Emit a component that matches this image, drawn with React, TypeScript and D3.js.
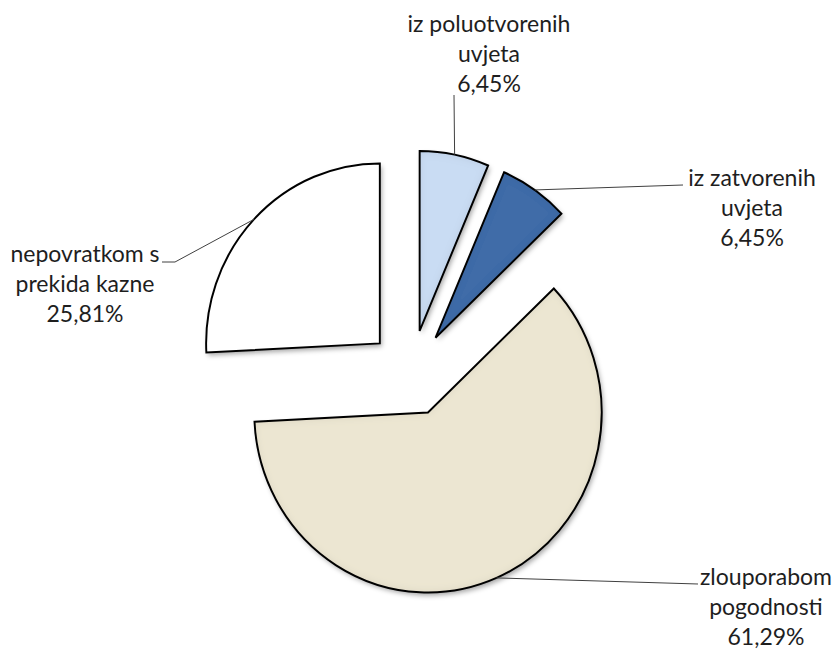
import React from "react";
import * as d3 from "d3";

const categories = ["iz poluotvorenih uvjeta", "iz zatvorenih uvjeta", "zlouporabom pogodnosti", "nepovratkom s prekida kazne"];
const values = [6.45, 6.45, 61.29, 25.81];
const labelLines = [
  ["iz poluotvorenih", "uvjeta", "6,45%"],
  ["iz zatvorenih", "uvjeta", "6,45%"],
  ["zlouporabom", "pogodnosti", "61,29%"],
  ["nepovratkom s", "prekida kazne", "25,81%"],
];
const colors = ["#c9dcf3", "#3f6ca8", "#ece6d2", "#ffffff"];

// layout (not data)
const W = 836, H = 650;
const CX = 411, CY = 373, R = 180, EXPLODE = 43;
const SX = 0.965; // slight horizontal squeeze of the pie (perspective)
// label anchor (text center x, first baseline y) and leader elbow points
const labelLayout = [
  { x: 489, y: 32, path: [[454, 95]] },
  { x: 752, y: 186, path: [[683, 185]] },
  { x: 766, y: 585, path: [[698, 584]] },
  { x: 85, y: 262, path: [[175, 262], [162, 262]] },
];
const lineHeight = 30;

export default function App() {
  const pie = d3.pie<number>().sort(null).value((d) => d).startAngle(0).endAngle(2 * Math.PI);
  const arcs = pie(values);
  const arc = d3.arc<d3.PieArcDatum<number>>().innerRadius(0).outerRadius(R);

  return (
    <svg width={W} height={H} style={{ position: "absolute", left: 0, top: 0, background: "#fff" }}>
      <defs>
        <filter id="shadow" x="-20%" y="-20%" width="140%" height="140%">
          <feDropShadow dx="2" dy="3" stdDeviation="2.5" floodColor="#000" floodOpacity="0.35" />
        </filter>
        <filter id="bevel" x="-10%" y="-10%" width="120%" height="120%">
          <feGaussianBlur in="SourceAlpha" stdDeviation="4" result="blur" />
          <feComposite in="SourceAlpha" in2="blur" operator="out" result="edge" />
          <feFlood floodColor="#000" floodOpacity="0.18" />
          <feComposite in2="edge" operator="in" result="inner" />
          <feMerge>
            <feMergeNode in="SourceGraphic" />
            <feMergeNode in="inner" />
          </feMerge>
        </filter>
      </defs>
      {arcs.map((a, i) => {
        const mid = (a.startAngle + a.endAngle) / 2;
        const ox = CX + EXPLODE * Math.sin(mid);
        const oy = CY - EXPLODE * Math.cos(mid);
        return (
          <g key={categories[i]} transform={`translate(${ox},${oy}) scale(${SX},1)`}>
            <g filter="url(#shadow)">
              <path d={arc(a) || ""} fill={colors[i]} filter={i === 3 ? undefined : "url(#bevel)"} />
            </g>
            <path
              d={arc(a) || ""}
              fill="none"
              stroke="#000"
              strokeWidth={2}
              strokeLinejoin="miter"
            />
          </g>
        );
      })}
      {arcs.map((a, i) => {
        const mid = (a.startAngle + a.endAngle) / 2;
        const ox = CX + EXPLODE * Math.sin(mid);
        const oy = CY - EXPLODE * Math.cos(mid);
        const sx = ox + SX * R * Math.sin(mid);
        const sy = oy - R * Math.cos(mid);
        const L = labelLayout[i];
        const pts: [number, number][] = [[sx, sy], ...(L.path as [number, number][])];
        const line = d3.line();
        return (
          <g key={"lbl" + i}>
            <path d={line(pts) || ""} fill="none" stroke="#404040" strokeWidth={1} />
            <text
              x={L.x}
              y={L.y}
              textAnchor="middle"
              fontFamily="Lato, 'Open Sans', sans-serif"
              fontSize={23}
              fill="#1e1e1e"
            >
              {labelLines[i].map((t, j) => (
                <tspan key={j} x={L.x} y={L.y + j * lineHeight}>
                  {t}
                </tspan>
              ))}
            </text>
          </g>
        );
      })}
    </svg>
  );
}
